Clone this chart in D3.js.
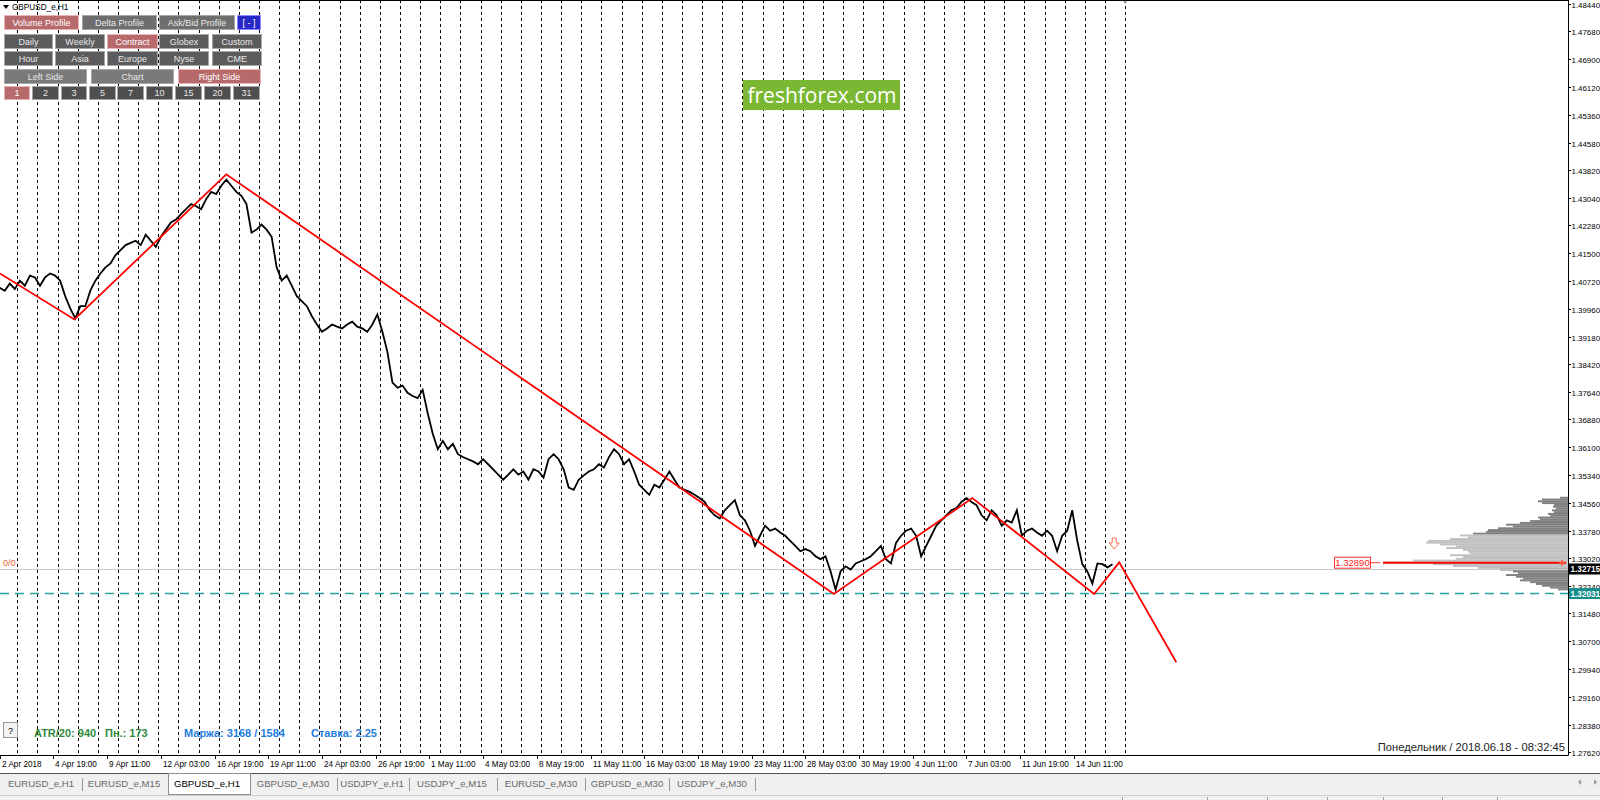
<!DOCTYPE html>
<html><head><meta charset="utf-8">
<script src="https://cdn.jsdelivr.net/npm/d3@7"></script>
<style>body{margin:0;background:#fff;overflow:hidden}svg{display:block}</style>
</head><body>
<svg id="c" width="1600" height="800"></svg>
<script>
// ---------------- DATA ----------------
const tickPrices = [1.48440,1.47680,1.46900,1.46120,1.45360,1.44580,1.43820,1.43040,1.42280,1.41500,1.40720,1.39960,1.39180,1.38420,1.37640,1.36880,1.36100,1.35340,1.34560,1.33780,1.33020,1.32240,1.31480,1.30700,1.29940,1.29160,1.28380,1.27620];
const timeLabels = ["2 Apr 2018","4 Apr 19:00","9 Apr 11:00","12 Apr 03:00","16 Apr 19:00","19 Apr 11:00","24 Apr 03:00","26 Apr 19:00","1 May 11:00","4 May 03:00","8 May 19:00","11 May 11:00","16 May 03:00","18 May 19:00","23 May 11:00","28 May 03:00","30 May 19:00","4 Jun 11:00","7 Jun 03:00","11 Jun 19:00","14 Jun 11:00"];
// H1 bar index (trading hours since 2 Apr 00:00)
const timeLabelBars = [3,67,131,195,259,323,387,451,515,579,643,707,771,835,899,963,1027,1091,1155,1219,1283];
const daySeparatorCount = 56; // daily period separators (every 24 H1 bars)

// price path, sampled every 6 H1 bars from bar 3
const closeFirstBar = 3, closeStep = 6;
const closes = [1.4054,1.4046,1.4066,1.4051,1.4074,1.4060,1.4088,1.4083,1.4060,1.4083,1.4094,1.4088,1.4074,1.4031,1.3997,1.3969,1.4003,1.4003,1.4046,1.4074,
1.4094,1.4111,1.4122,1.4145,1.4159,1.4173,1.4179,1.4185,1.4173,1.4202,1.4185,1.4168,1.4196,1.4216,1.4236,1.4244,1.4259,1.4273,1.4287,1.4281,
1.4273,1.4301,1.4321,1.4315,1.4338,1.4355,1.4338,1.4321,1.4310,1.4287,1.4208,1.4216,1.4230,1.4216,1.4196,1.4111,1.4074,1.4088,1.4060,1.4031,
1.4017,1.4003,1.3975,1.3952,1.3932,1.3941,1.3952,1.3946,1.3941,1.3952,1.3960,1.3946,1.3941,1.3932,1.3952,1.3980,1.3932,1.3875,1.3790,1.3776,
1.3782,1.3762,1.3753,1.3747,1.3770,1.3705,1.3648,1.3605,1.3628,1.3605,1.3620,1.3591,1.3583,1.3577,1.3571,1.3563,1.3577,1.3563,1.3549,1.3534,
1.3520,1.3534,1.3549,1.3534,1.3543,1.3520,1.3549,1.3543,1.3526,1.3577,1.3591,1.3577,1.3549,1.3498,1.3492,1.3520,1.3532,1.3543,1.3549,1.3563,
1.3554,1.3583,1.3605,1.3591,1.3563,1.3577,1.3543,1.3506,1.3492,1.3478,1.3506,1.3498,1.3520,1.3543,1.3520,1.3498,1.3492,1.3486,1.3478,1.3469,
1.3458,1.3435,1.3421,1.3412,1.3435,1.3449,1.3463,1.3421,1.3407,1.3378,1.3336,1.3364,1.3392,1.3378,1.3384,1.3373,1.3364,1.3350,1.3336,1.3321,
1.3327,1.3321,1.3307,1.3299,1.3307,1.3265,1.3214,1.3265,1.3279,1.3270,1.3287,1.3293,1.3299,1.3307,1.3321,1.3336,1.3299,1.3287,1.3344,1.3364,
1.3378,1.3384,1.3364,1.3307,1.3336,1.3364,1.3392,1.3407,1.3421,1.3435,1.3441,1.3458,1.3469,1.3458,1.3449,1.3421,1.3407,1.3435,1.3421,1.3392,
1.3407,1.3401,1.3435,1.3364,1.3378,1.3384,1.3373,1.3364,1.3378,1.3364,1.3321,1.3364,1.3378,1.3435,1.3350,1.3285,1.3265,1.3231,1.3287,1.3285,
1.3276,1.3285];

// zigzag (bar index, price)
const zigzagBars   = [3.3, 92, 273, 997, 1162, 1307, 1337, 1405];
const zigzagPrices = [1.4094, 1.3966, 1.4370, 1.3202, 1.3469, 1.3202, 1.3290, 1.3012];

const bidPrice = 1.32715;
const supportPrice = 1.32031;
const pocPrice = 1.32890;
const arrowBar = 1331, arrowPrice = 1.3341;
const chartShiftBar = 1344;

// volume profile
const vpLevels = [1.3470,1.3465,1.3460,1.3455,1.3450,1.3445,1.3440,1.3435,1.3430,1.3425,1.3420,1.3415,1.3410,1.3405,1.3400,1.3395,1.3390,1.3385,1.3380,1.3375,1.3370,1.3365,1.3360,1.3355,1.3350,1.3345,1.3340,1.3335,1.3330,1.3325,1.3320,1.3315,1.3310,1.3305,1.3300,1.3295,1.3290,1.3285,1.3280,1.3275,1.3270,1.3265,1.3260,1.3255,1.3250,1.3245,1.3240,1.3235,1.3230,1.3225,1.3220,1.3215];
const vpVolumes = [8,26,30,26,14,15,12,16,14,20,18,30,28,38,48,62,55,70,80,82,95,108,100,118,140,142,128,112,122,105,100,98,118,105,112,155,185,135,115,90,68,55,50,62,52,45,48,38,32,26,18,10];
const valueAreaHigh = 1.3365, valueAreaLow = 1.3275;

const buttonRows = [
  ["Volume Profile","Delta Profile","Ask/Bid Profile","[ - ]"],
  ["Daily","Weekly","Contract","Globex","Custom"],
  ["Hour","Asia","Europe","Nyse","CME"],
  ["Left Side","Chart","Right Side"],
  ["1","2","3","5","7","10","15","20","31"]
];
const activeButtons = ["Volume Profile","Contract","Right Side","1"];

const tabs = ["EURUSD_e,H1","EURUSD_e,M15","GBPUSD_e,H1","GBPUSD_e,M30","USDJPY_e,H1","USDJPY_e,M15","EURUSD_e,M30","GBPUSD_e,M30","USDJPY_e,M30"];
const activeTab = "GBPUSD_e,H1";

// ---------------- DRAW ----------------
const FONT = "'Liberation Sans', Arial, sans-serif";
const svg = d3.select("#c");
const plotR = 1568, plotB = 755;
const x = d3.scaleLinear().domain([0, 1872]).range([-2.8, 1568.2]);
const y = d3.scaleLinear().domain([1.27538, 1.48551]).range([plotB, 0]);

svg.append("rect").attr("width",1600).attr("height",800).attr("fill","#fff");
svg.append("defs").append("clipPath").attr("id","plotClip")
  .append("rect").attr("x",0).attr("y",0).attr("width",plotR).attr("height",plotB);
const plot = svg.append("g").attr("clip-path","url(#plotClip)");

// day separators
plot.append("g").selectAll("line").data(d3.range(1, daySeparatorCount+1)).join("line")
  .attr("x1", d => Math.round(x(d*24))+0.5).attr("x2", d => Math.round(x(d*24))+0.5)
  .attr("y1",0).attr("y2",plotB)
  .attr("stroke","#000").attr("stroke-width",1).attr("stroke-dasharray","3,3");

// volume profile
const rowH = y(vpLevels[1]) - y(vpLevels[0]);
const vx = d3.scaleLinear().domain([0, d3.max(vpVolumes)]).range([0, 185]);
plot.append("g").selectAll("rect").data(vpLevels).join("rect")
  .attr("x", (d,i) => plotR - vx(vpVolumes[i]))
  .attr("width", (d,i) => vx(vpVolumes[i]))
  .attr("y", d => y(d) - rowH/2)
  .attr("height", rowH + 0.15)
  .attr("fill", d => (d <= valueAreaHigh && d >= valueAreaLow) ? "#c0c0c0" : "#808080");

// bid line
plot.append("line").attr("x1",0).attr("x2",plotR).attr("y1",Math.round(y(bidPrice))+0.5).attr("y2",Math.round(y(bidPrice))+0.5)
  .attr("stroke","#c8c8c8").attr("stroke-width",1);
// support dashed
plot.append("line").attr("x1",0).attr("x2",plotR).attr("y1",y(supportPrice)).attr("y2",y(supportPrice))
  .attr("stroke","#2aa3a0").attr("stroke-width",1.5).attr("stroke-dasharray","9,6");

// price line
const priceLine = d3.line().x((d,i) => x(closeFirstBar + i*closeStep)).y(d => y(d));
plot.append("path").datum(closes).attr("d", priceLine)
  .attr("fill","none").attr("stroke","#000").attr("stroke-width",1.8).attr("stroke-linejoin","miter");

// zigzag
const zz = zigzagBars.map((b,i) => [b, zigzagPrices[i]]);
plot.append("path").datum(zz).attr("d", d3.line().x(d => x(d[0])).y(d => y(d[1])))
  .attr("fill","none").attr("stroke","#ff0000").attr("stroke-width",1.8);

// POC red line
const pocY = y(pocPrice);
plot.append("line").attr("x1", plotR - vx(d3.max(vpVolumes))).attr("x2", plotR-2).attr("y1",pocY).attr("y2",pocY)
  .attr("stroke","#ff0000").attr("stroke-width",2);
plot.append("line").attr("x1",1370).attr("x2",1380).attr("y1",pocY).attr("y2",pocY).attr("stroke","#ff4040").attr("stroke-width",1);
plot.append("path").attr("d",`M${plotR-9},${pocY}h6M${plotR-6},${pocY-3}v6`).attr("stroke","#ff5030").attr("stroke-width",1.5);
// POC label box
plot.append("rect").attr("x",1334.5).attr("y",pocY-5.5).attr("width",36).attr("height",11)
  .attr("fill","#fff").attr("stroke","#ff3030");
plot.append("text").attr("x",1352.5).attr("y",pocY+3.5).attr("text-anchor","middle")
  .attr("font-family",FONT).attr("font-size",9.5).attr("fill","#ff2020").text("1.32890");

// "0/0"
plot.append("text").attr("x",3).attr("y",pocY+3).attr("font-family",FONT).attr("font-size",9)
  .attr("fill","#e8642c").text("0/0");

// arrow marker
const ax = x(arrowBar), ay = y(arrowPrice);
plot.append("path").attr("d",`M${ax-2},${ay-6}h4v5h3l-5,6l-5,-6h3z`)
  .attr("fill","#fff").attr("stroke","#ff6a50").attr("stroke-width",1);

// chart shift marker
svg.append("path").attr("d",`M${x(chartShiftBar)-3},0h6l-3,4z`).attr("fill","#a0a0a0");

// logo
svg.append("rect").attr("x",743).attr("y",80).attr("width",157).attr("height",30).attr("fill","#7ab833");
svg.append("text").attr("x",822).attr("y",102.5).attr("text-anchor","middle")
  .attr("font-family","'Open Sans', sans-serif").attr("font-size",21).attr("fill","#fff").text("freshforex.com");

// frame lines
svg.append("line").attr("x1",0).attr("x2",plotR+0.5).attr("y1",0.5).attr("y2",0.5).attr("stroke","#000");
svg.append("line").attr("x1",plotR+0.5).attr("x2",plotR+0.5).attr("y1",0).attr("y2",plotB+0.5).attr("stroke","#000");
svg.append("line").attr("x1",0).attr("x2",plotR+0.5).attr("y1",plotB+0.5).attr("y2",plotB+0.5).attr("stroke","#000");

// y axis ticks/labels
const yAx = svg.append("g");
tickPrices.forEach(p => {
  const yy = Math.round(y(p)) + 0.5;
  yAx.append("line").attr("x1",plotR+1).attr("x2",plotR+3).attr("y1",yy).attr("y2",yy).attr("stroke","#000");
  yAx.append("text").attr("x",plotR+3.5).attr("y",yy+3.2).attr("font-family",FONT).attr("font-size",7.9)
    .attr("fill","#000").text(p.toFixed(5));
});
// price boxes on axis
function axisBox(p, bg, label){
  const yy = y(p);
  svg.append("rect").attr("x",plotR+1).attr("y",yy-5.5).attr("width",32).attr("height",11).attr("fill",bg);
  svg.append("text").attr("x",plotR+2.5).attr("y",yy+3.3).attr("font-family",FONT).attr("font-size",8.2)
    .attr("font-weight","bold").attr("fill","#fff").text(label);
}
axisBox(bidPrice, "#000", bidPrice.toFixed(5));
axisBox(supportPrice, "#178c8c", supportPrice.toFixed(5));

// x axis labels
timeLabels.forEach((lab,i) => {
  const xx = Math.round(x(timeLabelBars[i])) + 0.5;
  svg.append("line").attr("x1",xx).attr("x2",xx).attr("y1",plotB).attr("y2",plotB+4).attr("stroke","#000");
  svg.append("text").attr("x",Math.max(xx+1.5, 1)).attr("y",plotB+12).attr("font-family",FONT).attr("font-size",8.2)
    .attr("fill","#000").text(lab);
});

// title
svg.append("path").attr("d","M3,5h6l-3,4z").attr("fill","#000");
svg.append("text").attr("x",12).attr("y",10).attr("font-family",FONT).attr("font-size",8.2).attr("fill","#000").text("GBPUSD_e,H1");

// buttons
const rowsY = [15, 34, 51, 69, 86];
const rowsH = [15, 15, 15, 15, 14];
const colSpec = [
  [[4,75],[82,75],[159,76],[237,24]],
  [[4,49],[55,50],[107,51],[159,50],[212,50]],
  [[4,49],[55,50],[107,51],[159,50],[212,50]],
  [[4,83],[91,83],[178,83]],
  [[4,26],[32,27],[61,26],[89,27],[117,27],[146,27],[175,27],[204,27],[233,27]]
];
buttonRows.forEach((row, r) => {
  row.forEach((lab, c) => {
    const [bx, bw] = colSpec[r][c];
    const by = rowsY[r], bh = rowsH[r];
    let fill = "#5c5c5c", stroke = "#a6a6a6", tcol = "#e8e8e8";
    if (r === 0) fill = "#6e6e6e";
    if (r === 3) fill = "#7a7a7a";
    if (r === 4) fill = "#4e4e4e";
    if (activeButtons.includes(lab)) { fill = "#b76a6c"; stroke = "#e8b4b4"; tcol = "#fff"; }
    if (lab === "[ - ]") { fill = "#2828c8"; stroke = "#8a8aff"; tcol = "#fff"; }
    svg.append("rect").attr("x",bx+0.5).attr("y",by+0.5).attr("width",bw-1).attr("height",bh-1)
      .attr("fill",fill).attr("stroke",stroke).attr("stroke-width",1);
    svg.append("text").attr("x",bx+bw/2).attr("y",by+bh/2+3.3).attr("text-anchor","middle")
      .attr("font-family",FONT).attr("font-size",9).attr("fill",tcol).text(lab);
  });
});

// info line
svg.append("rect").attr("x",3.5).attr("y",722.5).attr("width",14).attr("height",15).attr("fill","#f4f4f4").attr("stroke","#9a9a9a");
svg.append("text").attr("x",10.5).attr("y",734).attr("text-anchor","middle").attr("font-family",FONT).attr("font-size",9).attr("fill","#000").text("?");
const infoTexts = [["ATR/20: 940",34,"#2e8b3c"],["Пн.: 173",105,"#2e8b3c"],["Маржа: 3168 / 1584",184,"#1f7de0"],["Ставка: 2.25",311,"#1f7de0"]];
infoTexts.forEach(([t,xx,col]) => {
  svg.append("text").attr("x",xx).attr("y",737).attr("font-family",FONT).attr("font-size",11)
    .attr("font-weight","bold").attr("fill",col).text(t);
});
svg.append("text").attr("x",1565).attr("y",751).attr("text-anchor","end").attr("font-family",FONT)
  .attr("font-size",11.2).attr("fill","#222").text("Понедельник / 2018.06.18 - 08:32:45");

// tab bar
svg.append("rect").attr("x",0).attr("y",773).attr("width",1600).attr("height",27).attr("fill","#f0f0f0");
svg.append("line").attr("x1",0).attr("x2",1600).attr("y1",773.5).attr("y2",773.5).attr("stroke","#505050");
svg.append("line").attr("x1",0).attr("x2",1600).attr("y1",795.5).attr("y2",795.5).attr("stroke","#d0d0d0");
const tabCenters = [41,124,207,293,372,452,541,627,712];
const tabSeps = [82,168,250,337,409,497,585,669,755];
tabs.forEach((t,i) => {
  if (t === activeTab) {
    svg.append("rect").attr("x",168.5).attr("y",773.5).attr("width",82).attr("height",21).attr("fill","#fff").attr("stroke","#909090");
  }
  svg.append("text").attr("x",tabCenters[i]).attr("y",786.5).attr("text-anchor","middle").attr("font-family",FONT)
    .attr("font-size",9.6).attr("fill", t === activeTab ? "#000" : "#6a6a6a").text(t);
});
tabSeps.forEach(sx => {
  if (sx === 168 || sx === 250) return;
  svg.append("line").attr("x1",sx+0.5).attr("x2",sx+0.5).attr("y1",778).attr("y2",791).attr("stroke","#9a9a9a");
});
svg.append("path").attr("d","M1578,782l3,-3v6z").attr("fill","#9a9a9a");
svg.append("path").attr("d","M1594,779l3,3l-3,3z").attr("fill","#9a9a9a");
[1122,1207,1267,1327,1383,1442,1497].forEach(sx => {
  svg.append("line").attr("x1",sx+0.5).attr("x2",sx+0.5).attr("y1",797).attr("y2",800).attr("stroke","#a0a0a0");
});
</script>
</body></html>
